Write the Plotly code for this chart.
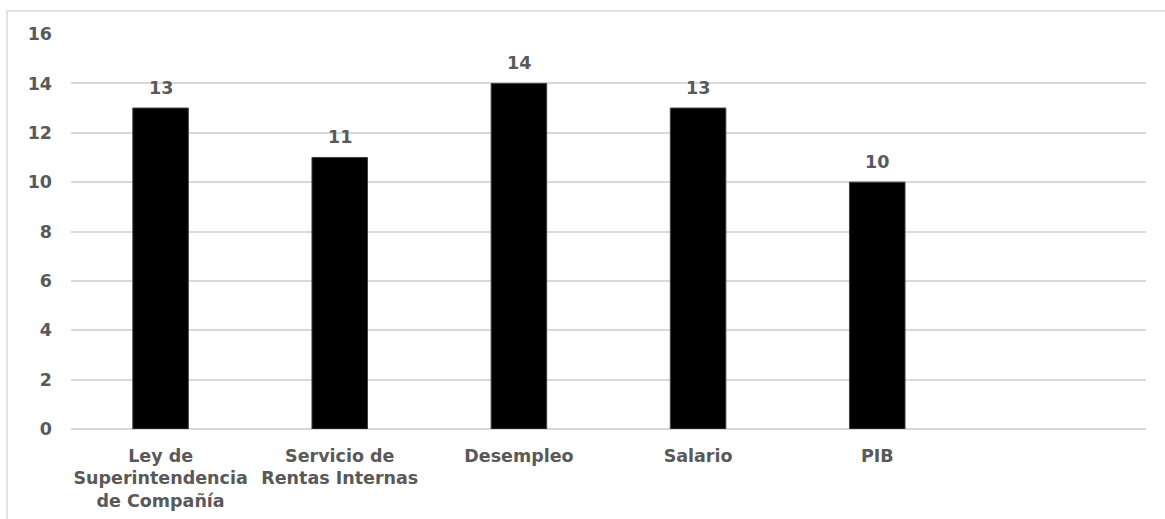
import plotly.graph_objects as go

# Category labels (line breaks as shown under the axis) and counts
categories = [
    "Ley de<br>Superintendencia<br>de Compañía",
    "Servicio de<br>Rentas Internas",
    "Desempleo",
    "Salario",
    "PIB",
]
values = [13, 11, 14, 13, 10]
y_ticks = [0, 2, 4, 6, 8, 10, 12, 14, 16]

TEXT_GREY = "#595959"
GRID_GREY = "#d9d9d9"
FONT = dict(family="DejaVu Sans", size=17.5, color=TEXT_GREY, weight="bold")

fig = go.Figure(
    go.Bar(
        x=categories,
        y=values,
        marker=dict(color="#000000", line=dict(color="#404040", width=1)),
        hoverinfo="skip",
    )
)

# value labels floating above each bar
for cat, val in zip(categories, values):
    fig.add_annotation(
        x=cat,
        y=val,
        text=str(val),
        showarrow=False,
        yanchor="bottom",
        yshift=8,
        font=FONT,
    )

fig.update_layout(
    width=1165,
    height=519,
    margin=dict(l=71, r=19, t=34, b=90),
    plot_bgcolor="white",
    paper_bgcolor="white",
    bargap=0.69,
    showlegend=False,
    font=FONT,
    xaxis=dict(
        type="category",
        range=[-0.5, 5.5],  # one empty slot kept on the right
        showgrid=False,
        showline=False,
        zeroline=False,
        ticks="",
        ticklabelstandoff=14,
        tickfont=FONT,
        automargin=False,
    ),
    yaxis=dict(
        range=[0, 16],
        tickvals=y_ticks,
        showgrid=True,
        gridcolor=GRID_GREY,
        gridwidth=1.5,
        zeroline=True,
        zerolinecolor=GRID_GREY,
        zerolinewidth=1.5,
        showline=False,
        ticks="",
        ticklabelstandoff=18,
        tickfont=FONT,
        automargin=False,
    ),
    shapes=[
        # light outer chart frame
        dict(
            type="rect",
            xref="paper",
            yref="paper",
            x0=-0.0595,
            x1=1.03,
            y0=-0.3,
            y1=1.058,
            line=dict(color=GRID_GREY, width=1.5),
            fillcolor="rgba(0,0,0,0)",
            layer="below",
        )
    ],
)

fig.write_html("out.html")
